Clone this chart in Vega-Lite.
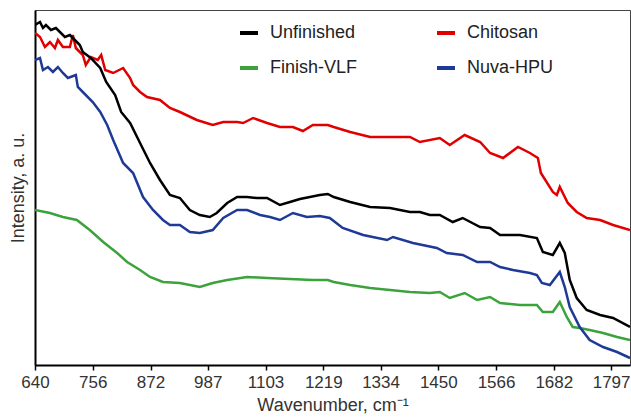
{
  "$schema": "https://vega.github.io/schema/vega-lite/v6.json",
  "width": 595,
  "height": 355,
  "autosize": {"type": "none"},
  "padding": {"left": 35, "top": 10, "right": 1, "bottom": 52},
  "background": "#ffffff",
  "config": {
    "font": "Liberation Sans",
    "view": {"stroke": "#444444", "strokeWidth": 1}
  },
  "datasets": {
    "Unfinished": [
      {"w": 640, "v": 340}, {"w": 650, "v": 343}, {"w": 656, "v": 337}, {"w": 662, "v": 340}, {"w": 672, "v": 335}, {"w": 682, "v": 337}, {"w": 692, "v": 332}, {"w": 700, "v": 328},
      {"w": 710, "v": 330}, {"w": 720, "v": 325}, {"w": 730, "v": 320}, {"w": 736, "v": 313}, {"w": 752, "v": 307}, {"w": 771, "v": 297}, {"w": 783, "v": 283}, {"w": 801, "v": 270},
      {"w": 813, "v": 253}, {"w": 831, "v": 242}, {"w": 851, "v": 222}, {"w": 871, "v": 202}, {"w": 891, "v": 185},
      {"w": 911, "v": 170}, {"w": 931, "v": 167}, {"w": 951, "v": 155}, {"w": 971, "v": 150}, {"w": 991, "v": 148}, {"w": 1005, "v": 152}, {"w": 1026, "v": 162},
      {"w": 1046, "v": 168}, {"w": 1066, "v": 168}, {"w": 1086, "v": 167}, {"w": 1106, "v": 167}, {"w": 1132, "v": 160}, {"w": 1152, "v": 163}, {"w": 1172, "v": 166},
      {"w": 1192, "v": 168}, {"w": 1212, "v": 170}, {"w": 1228, "v": 171}, {"w": 1240, "v": 168}, {"w": 1273, "v": 163}, {"w": 1313, "v": 158}, {"w": 1353, "v": 157},
      {"w": 1393, "v": 153}, {"w": 1413, "v": 153}, {"w": 1433, "v": 150}, {"w": 1453, "v": 150}, {"w": 1479, "v": 143}, {"w": 1499, "v": 147}, {"w": 1534, "v": 138},
      {"w": 1554, "v": 137}, {"w": 1574, "v": 130}, {"w": 1614, "v": 130}, {"w": 1648, "v": 127}, {"w": 1660, "v": 113}, {"w": 1680, "v": 110}, {"w": 1694, "v": 122},
      {"w": 1704, "v": 112}, {"w": 1714, "v": 85}, {"w": 1728, "v": 67}, {"w": 1748, "v": 55}, {"w": 1775, "v": 50}, {"w": 1801, "v": 47}, {"w": 1835, "v": 38}
    ],
    "Chitosan": [
      {"w": 640, "v": 332}, {"w": 650, "v": 328}, {"w": 660, "v": 318}, {"w": 670, "v": 323}, {"w": 680, "v": 317}, {"w": 686, "v": 325}, {"w": 696, "v": 318}, {"w": 710, "v": 318},
      {"w": 716, "v": 330}, {"w": 722, "v": 317}, {"w": 736, "v": 310}, {"w": 742, "v": 300}, {"w": 752, "v": 308}, {"w": 766, "v": 305}, {"w": 773, "v": 310}, {"w": 781, "v": 295},
      {"w": 797, "v": 292}, {"w": 817, "v": 297}, {"w": 831, "v": 287}, {"w": 837, "v": 280}, {"w": 851, "v": 273}, {"w": 865, "v": 268}, {"w": 891, "v": 265},
      {"w": 911, "v": 257}, {"w": 931, "v": 253}, {"w": 965, "v": 245}, {"w": 997, "v": 240}, {"w": 1018, "v": 243}, {"w": 1046, "v": 243}, {"w": 1058, "v": 242},
      {"w": 1078, "v": 247}, {"w": 1106, "v": 242}, {"w": 1132, "v": 238}, {"w": 1158, "v": 238}, {"w": 1178, "v": 234}, {"w": 1198, "v": 240}, {"w": 1228, "v": 240},
      {"w": 1240, "v": 238}, {"w": 1273, "v": 233}, {"w": 1313, "v": 228}, {"w": 1353, "v": 228}, {"w": 1393, "v": 228}, {"w": 1413, "v": 223}, {"w": 1453, "v": 227},
      {"w": 1473, "v": 220}, {"w": 1503, "v": 230}, {"w": 1534, "v": 223}, {"w": 1554, "v": 212}, {"w": 1580, "v": 207}, {"w": 1610, "v": 218}, {"w": 1634, "v": 212},
      {"w": 1650, "v": 207}, {"w": 1656, "v": 192}, {"w": 1680, "v": 173}, {"w": 1688, "v": 170}, {"w": 1694, "v": 178}, {"w": 1710, "v": 162}, {"w": 1728, "v": 153},
      {"w": 1748, "v": 147}, {"w": 1775, "v": 145}, {"w": 1801, "v": 140}, {"w": 1835, "v": 135}
    ],
    "FinishVLF": [
      {"w": 640, "v": 155}, {"w": 670, "v": 152}, {"w": 696, "v": 148}, {"w": 724, "v": 145}, {"w": 750, "v": 135}, {"w": 777, "v": 123}, {"w": 805, "v": 112},
      {"w": 825, "v": 103}, {"w": 851, "v": 95}, {"w": 871, "v": 88}, {"w": 897, "v": 83}, {"w": 931, "v": 82}, {"w": 971, "v": 78}, {"w": 997, "v": 82},
      {"w": 1026, "v": 85}, {"w": 1066, "v": 88}, {"w": 1106, "v": 87}, {"w": 1152, "v": 86}, {"w": 1198, "v": 85}, {"w": 1228, "v": 85}, {"w": 1240, "v": 83},
      {"w": 1273, "v": 80}, {"w": 1313, "v": 77}, {"w": 1353, "v": 75}, {"w": 1393, "v": 73}, {"w": 1433, "v": 72}, {"w": 1453, "v": 73}, {"w": 1473, "v": 67},
      {"w": 1503, "v": 72}, {"w": 1528, "v": 65}, {"w": 1554, "v": 68}, {"w": 1574, "v": 62}, {"w": 1614, "v": 60}, {"w": 1648, "v": 60}, {"w": 1660, "v": 53},
      {"w": 1680, "v": 53}, {"w": 1694, "v": 63}, {"w": 1708, "v": 48}, {"w": 1720, "v": 38}, {"w": 1734, "v": 37}, {"w": 1754, "v": 35}, {"w": 1781, "v": 32},
      {"w": 1809, "v": 28}, {"w": 1835, "v": 25}
    ],
    "NuvaHPU": [
      {"w": 640, "v": 305}, {"w": 650, "v": 307}, {"w": 656, "v": 295}, {"w": 666, "v": 298}, {"w": 676, "v": 293}, {"w": 686, "v": 298}, {"w": 696, "v": 292}, {"w": 706, "v": 287},
      {"w": 722, "v": 290}, {"w": 726, "v": 278}, {"w": 736, "v": 273}, {"w": 756, "v": 263}, {"w": 771, "v": 253}, {"w": 785, "v": 240}, {"w": 797, "v": 225},
      {"w": 817, "v": 202}, {"w": 837, "v": 192}, {"w": 857, "v": 168}, {"w": 877, "v": 155},
      {"w": 897, "v": 145}, {"w": 911, "v": 140}, {"w": 931, "v": 140}, {"w": 951, "v": 133}, {"w": 971, "v": 132}, {"w": 997, "v": 135}, {"w": 1018, "v": 147},
      {"w": 1046, "v": 155}, {"w": 1066, "v": 155}, {"w": 1092, "v": 150}, {"w": 1112, "v": 148}, {"w": 1132, "v": 145}, {"w": 1158, "v": 152}, {"w": 1186, "v": 148},
      {"w": 1212, "v": 149}, {"w": 1232, "v": 147}, {"w": 1258, "v": 137}, {"w": 1299, "v": 130}, {"w": 1347, "v": 125}, {"w": 1359, "v": 128}, {"w": 1399, "v": 122},
      {"w": 1447, "v": 117}, {"w": 1467, "v": 112}, {"w": 1499, "v": 110}, {"w": 1528, "v": 103}, {"w": 1554, "v": 103}, {"w": 1574, "v": 98}, {"w": 1600, "v": 95},
      {"w": 1634, "v": 92}, {"w": 1648, "v": 90}, {"w": 1658, "v": 82}, {"w": 1674, "v": 80}, {"w": 1694, "v": 93}, {"w": 1704, "v": 78}, {"w": 1714, "v": 58},
      {"w": 1734, "v": 38}, {"w": 1754, "v": 25}, {"w": 1781, "v": 18}, {"w": 1809, "v": 13}, {"w": 1835, "v": 7}
    ]
  },
  "encoding": {
    "x": {"field": "w", "type": "quantitative", "scale": {"domain": [640, 1835], "nice": false, "zero": false},
      "axis": {"values": [640, 756, 872, 987, 1103, 1219, 1334, 1450, 1566, 1682, 1797], "format": "d", "grid": false, "title": "Wavenumber, cm⁻¹", "domainColor": "#000000", "domainWidth": 2, "tickColor": "#000000", "tickWidth": 1.5, "tickSize": 5, "labelFontSize": 17, "labelColor": "#333333", "labelPadding": 4, "labelFlush": false, "labelOverlap": false, "titleFontSize": 18, "titleFontWeight": "normal", "titleColor": "#333333", "titlePadding": 6}},
    "y": {"field": "v", "type": "quantitative", "scale": {"domain": [0, 355], "nice": false, "zero": false},
      "axis": {"labels": false, "ticks": false, "grid": false, "title": "Intensity, a. u.", "domainColor": "#000000", "domainWidth": 2, "titleFontSize": 18, "titleFontWeight": "normal", "titleColor": "#333333", "titlePadding": 8}}
  },
  "layer": [
    {"data": {"name": "Chitosan"}, "mark": {"type": "line", "strokeWidth": 2.5, "clip": true},
      "encoding": {"color": {"datum": "Chitosan", "type": "nominal",
        "scale": {"domain": ["Unfinished", "Finish-VLF", "Chitosan", "Nuva-HPU"], "range": ["#000000", "#3ca33c", "#e00000", "#1f3a96"]},
        "legend": {"orient": "none", "legendX": 203, "legendY": 12, "columns": 2, "title": null, "symbolType": "stroke", "symbolStrokeWidth": 4, "symbolSize": 324, "labelFontSize": 18, "labelColor": "#222222", "labelOffset": 10, "columnPadding": 71, "rowPadding": 15, "padding": 0}}}},
    {"data": {"name": "FinishVLF"}, "mark": {"type": "line", "strokeWidth": 2.5, "clip": true}, "encoding": {"color": {"datum": "Finish-VLF", "type": "nominal"}}},
    {"data": {"name": "NuvaHPU"}, "mark": {"type": "line", "strokeWidth": 2.5, "clip": true}, "encoding": {"color": {"datum": "Nuva-HPU", "type": "nominal"}}},
    {"data": {"name": "Unfinished"}, "mark": {"type": "line", "strokeWidth": 2.5, "clip": true}, "encoding": {"color": {"datum": "Unfinished", "type": "nominal"}}}
  ]
}
